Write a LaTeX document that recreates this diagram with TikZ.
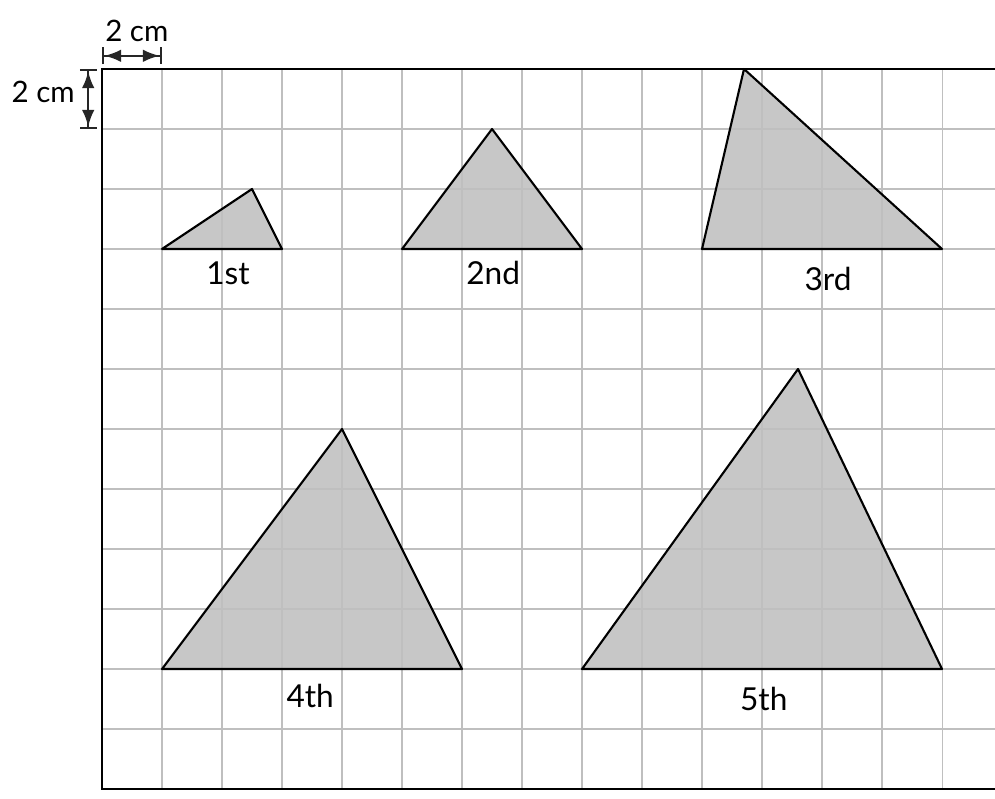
\documentclass[tikz,border=0pt]{standalone}
\usepackage{fontspec}
\setmainfont{Lato}
\usetikzlibrary{arrows.meta}

\begin{document}
\begin{tikzpicture}[x=10mm,y=10mm,line width=1pt,
		grid line/.style={gray!50,line width=0.5pt},
		frame/.style={black,line width=1.1pt},
		shade/.style={fill=black!22},
		outline/.style={black,line width=1pt,line join=round},
		ordinal/.style={font=\fontsize{15}{17}\selectfont,inner sep=0pt},
		dimtext/.style={font=\fontsize{14}{16}\selectfont,inner sep=0pt},
		dim/.style={black!85,line width=1.1pt,{Bar[width=8pt]Latex[length=8pt,width=6pt]}-{Latex[length=8pt,width=6pt]Bar[width=8pt]}}]
		\useasboundingbox (-1.7,-0.15) rectangle (14.883,13.15);
		
		\coordinate (A1) at ( 1,9); \coordinate (B1) at ( 3,9); \coordinate (C1) at ( 2.5,10);
		\coordinate (A2) at ( 5,9); \coordinate (B2) at ( 8,9); \coordinate (C2) at ( 6.5,11);
		\coordinate (A3) at (10,9); \coordinate (B3) at (14,9); \coordinate (C3) at (10.7,12);
		\coordinate (A4) at ( 1,2); \coordinate (B4) at ( 6,2); \coordinate (C4) at ( 4  , 6);
		\coordinate (A5) at ( 8,2); \coordinate (B5) at (14,2); \coordinate (C5) at (11.6, 7);
		
		\foreach \n in {1,...,5} \fill[shade] (A\n)--(B\n)--(C\n)--cycle;
		
		\foreach \i in {1,...,14} \draw[grid line] (\i,0)--(\i,12);
		\foreach \j in {1,...,11} \draw[grid line] (0,\j)--(14.883,\j);
		\draw[frame] (14.883,12)--(0,12)--(0,0)--(14.883,0);
		
		\foreach \n in {1,...,5} \draw[outline] (A\n)--(B\n)--(C\n)--cycle;
		
		\node[ordinal] (N1) at ( 2.1 ,8.6 ) {1st};
		\node[ordinal] (N2) at ( 6.52,8.6 ) {2nd};
		\node[ordinal] (N3) at (12.1 ,8.5 ) {3rd};
		\node[ordinal] (N4) at ( 3.47,1.55) {4th};
		\node[ordinal] (N5) at (11.03,1.5 ) {5th};
		
		\coordinate (H1) at (0,12.22); \coordinate (H2) at (1,12.22);
		\coordinate (V1) at (-0.23,12); \coordinate (V2) at (-0.23,11);
		\draw[dim] (H1)--(H2);
		\draw[dim] (V1)--(V2);
		\node[dimtext] (HT) at ( 0.58,12.63) {2 cm};
		\node[dimtext] (VT) at (-0.98,11.62) {2 cm};
	\end{tikzpicture}
\end{document}
